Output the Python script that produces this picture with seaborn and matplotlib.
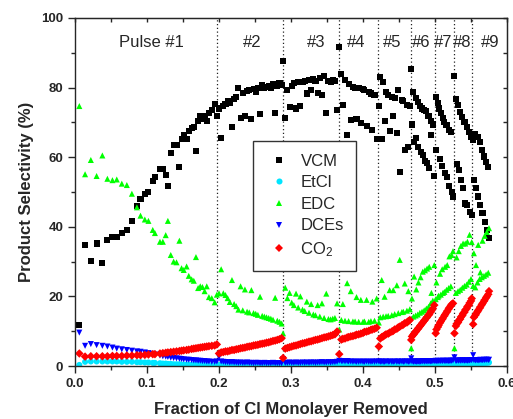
import numpy as np
import pandas as pd
import matplotlib
matplotlib.use("Agg")
import matplotlib.pyplot as plt
from matplotlib.ticker import MultipleLocator
import seaborn as sns

# fraction of Cl monolayer removed (shared sample positions, grouped by pulse)
frac = [
    # pulse 1
    0.006, 0.014, 0.022, 0.030, 0.038, 0.045, 0.052, 0.058, 0.065, 0.072,
    0.079, 0.086, 0.091, 0.097, 0.102, 0.108, 0.111, 0.118, 0.122, 0.126,
    0.129, 0.133, 0.137, 0.141, 0.145, 0.148, 0.151, 0.155, 0.158, 0.162,
    0.165, 0.168, 0.171, 0.174, 0.177, 0.180, 0.183, 0.186, 0.190, 0.194, 0.197,
    # pulse 2
    0.200, 0.203, 0.206, 0.209, 0.212, 0.215, 0.218, 0.221, 0.224, 0.227,
    0.230, 0.233, 0.236, 0.239, 0.242, 0.245, 0.248, 0.251, 0.254, 0.257,
    0.260, 0.263, 0.266, 0.269, 0.272, 0.275, 0.278, 0.281, 0.284, 0.287,
    # pulse 3
    0.289, 0.292, 0.295, 0.298, 0.301, 0.304, 0.307, 0.310, 0.313, 0.316,
    0.319, 0.322, 0.325, 0.328, 0.331, 0.334, 0.337, 0.340, 0.343, 0.346,
    0.349, 0.352, 0.355, 0.358, 0.361, 0.364,
    # pulse 4
    0.367, 0.370, 0.372, 0.375, 0.378, 0.380, 0.383, 0.386, 0.389, 0.391,
    0.394, 0.397, 0.400, 0.402, 0.405, 0.408, 0.411, 0.413, 0.416, 0.419,
    # pulse 5
    0.422, 0.424, 0.426, 0.428, 0.430, 0.432, 0.435, 0.437, 0.440, 0.442,
    0.444, 0.447, 0.449, 0.451, 0.454, 0.456, 0.458, 0.461, 0.463, 0.465,
    # pulse 6
    0.467, 0.468, 0.470, 0.471, 0.473, 0.474, 0.476, 0.477, 0.479, 0.480,
    0.482, 0.483, 0.485, 0.486, 0.488, 0.489, 0.491, 0.492, 0.494, 0.495,
    0.497, 0.499,
    # pulse 7
    0.501, 0.502, 0.504, 0.505, 0.507, 0.508, 0.510, 0.511, 0.513, 0.514,
    0.516, 0.517, 0.519, 0.520, 0.522, 0.523, 0.525,
    # pulse 8
    0.527, 0.529, 0.530, 0.532, 0.533, 0.535, 0.536, 0.538, 0.539, 0.541,
    0.542, 0.544, 0.545, 0.547, 0.548, 0.550, 0.551,
    # pulse 9
    0.553, 0.554, 0.556, 0.557, 0.559, 0.560, 0.562, 0.563, 0.565, 0.566,
    0.568, 0.569, 0.571, 0.572, 0.574, 0.575,
]

vcm = [
    11.7, 34.7, 30.3, 35.2, 29.6, 36.3, 37.0, 37.0, 38.3, 39.0,
    41.7, 46.0, 48.0, 49.4, 50.0, 53.2, 54.3, 56.6, 56.6, 54.9,
    51.6, 61.2, 63.5, 63.4, 57.1, 65.2, 66.5, 65.2, 67.4, 68.4,
    68.6, 61.7, 70.4, 71.8, 71.0, 71.8, 70.4, 72.6, 73.6, 75.2, 71.8,
    74.0, 65.6, 74.8, 75.3, 76.0, 75.5, 68.7, 76.8, 77.4, 79.8,
    71.4, 78.5, 71.8, 79.0, 79.3, 71.1, 79.5, 78.8, 79.8, 72.5,
    80.7, 79.9, 80.2, 80.5, 79.8, 80.9, 72.6, 80.6, 81.4, 80.8,
    87.7, 71.4, 79.3, 74.3, 80.5, 81.2, 74.0, 81.5, 74.7, 81.7,
    82.0, 78.3, 82.2, 79.3, 82.4, 82.0, 78.5, 82.7, 77.8, 83.4,
    72.8, 82.0, 81.7, 82.3, 81.8, 73.5,
    91.6, 83.9, 75.0, 82.2, 66.4, 81.0, 70.7, 80.3, 80.0, 71.1,
    79.9, 69.7, 79.5, 79.2, 69.0, 78.8, 78.3, 67.8, 78.0, 65.1,
    74.6, 83.1, 65.2, 81.7, 70.4, 78.8, 77.9, 67.6, 77.4, 71.8,
    77.0, 66.9, 79.4, 55.8, 76.4, 76.1, 62.0, 75.1, 62.8, 74.6,
    85.3, 69.4, 78.8, 64.5, 76.9, 65.4, 75.9, 63.0, 74.6, 61.5,
    74.0, 60.6, 73.6, 59.0, 73.2, 58.2, 71.8, 56.8, 70.4, 66.5,
    69.4, 54.5,
    77.4, 62.0, 75.5, 74.0, 59.5, 72.6, 57.5, 71.2, 70.2, 55.5,
    69.3, 54.4, 67.9, 51.7, 67.3, 50.1, 48.7,
    83.3, 76.6, 58.0, 75.0, 56.3, 73.1, 53.5, 71.6, 51.1, 70.2,
    46.7, 68.7, 46.3, 67.3, 44.3, 65.9, 43.3,
    65.0, 53.5, 66.8, 51.1, 65.9, 48.7, 64.5, 46.3, 62.0, 44.0,
    60.2, 41.5, 58.7, 39.0, 57.3, 36.7,
]

etcl = [
    0.3, 1.2, 1.3, 1.3, 1.3, 1.3, 1.3, 1.3, 1.2, 1.2,
    1.2, 1.1, 1.1, 1.0, 1.0, 0.9, 0.9, 0.8, 0.7, 0.7,
    0.6, 0.6, 0.5, 0.5, 0.5, 0.4, 0.4, 0.4, 0.4, 0.3,
    0.3, 0.3, 0.3, 0.3, 0.3, 0.2, 0.2, 0.2, 0.2, 0.2, 0.2,
    0.3, 0.2, 0.2, 0.2, 0.3, 0.2, 0.2, 0.2, 0.3, 0.2,
    0.2, 0.2, 0.2, 0.3, 0.2, 0.2, 0.2, 0.2, 0.2, 0.3,
    0.2, 0.2, 0.2, 0.2, 0.2, 0.2, 0.3, 0.2, 0.2, 0.2,
    0.3, 0.2, 0.2, 0.2, 0.2, 0.3, 0.2, 0.2, 0.2, 0.2,
    0.3, 0.2, 0.2, 0.2, 0.2, 0.3, 0.2, 0.2, 0.2, 0.2,
    0.3, 0.2, 0.2, 0.2, 0.3, 0.3,
    0.3, 0.3, 0.2, 0.3, 0.3, 0.2, 0.3, 0.3, 0.2, 0.3,
    0.3, 0.3, 0.2, 0.3, 0.3, 0.3, 0.2, 0.3, 0.3, 0.3,
    0.3, 0.3, 0.3, 0.2, 0.3, 0.3, 0.3, 0.3, 0.3, 0.2,
    0.3, 0.3, 0.3, 0.3, 0.3, 0.3, 0.3, 0.3, 0.3, 0.3,
    0.3, 0.3, 0.3, 0.4, 0.3, 0.3, 0.4, 0.3, 0.3, 0.4,
    0.3, 0.4, 0.4, 0.3, 0.4, 0.4, 0.4, 0.3, 0.4, 0.4,
    0.4, 0.4,
    0.4, 0.4, 0.4, 0.5, 0.4, 0.4, 0.5, 0.4, 0.5, 0.5,
    0.4, 0.5, 0.5, 0.5, 0.5, 0.5, 0.5,
    0.5, 0.5, 0.6, 0.5, 0.6, 0.6, 0.5, 0.6, 0.6, 0.6,
    0.6, 0.7, 0.6, 0.7, 0.7, 0.7, 0.7,
    0.7, 0.8, 0.7, 0.8, 0.8, 0.8, 0.9, 0.8, 0.9, 0.9,
    0.9, 1.0, 0.9, 1.0, 1.0, 1.0,
]

edc = [
    74.7, 55.1, 59.2, 54.6, 60.5, 53.8, 53.4, 53.6, 52.4, 52.0,
    49.5, 45.6, 43.2, 42.1, 41.7, 39.1, 38.2, 35.7, 35.7, 37.6,
    41.7, 31.9, 30.0, 29.8, 36.0, 28.1, 27.6, 28.6, 25.9, 24.9,
    24.5, 31.3, 22.4, 22.9, 22.7, 21.5, 22.9, 19.8, 19.5, 18.3, 20.5,
    20.9, 27.8, 20.9, 20.4, 19.5, 18.4, 24.7, 17.8, 17.2, 16.2,
    22.9, 16.0, 22.0, 15.6, 15.4, 21.8, 15.2, 15.0, 14.7, 19.9,
    14.4, 14.2, 14.0, 13.8, 13.6, 13.3, 19.6, 13.0, 12.7, 12.2,
    9.4, 22.5, 19.5, 21.0, 18.2, 17.5, 20.8, 16.8, 20.0, 16.2,
    15.8, 18.5, 15.3, 17.8, 14.8, 14.6, 17.5, 14.2, 18.0, 13.8,
    20.8, 13.5, 13.4, 13.6, 13.8, 18.0,
    10.5, 13.2, 17.8, 13.0, 23.8, 12.9, 21.5, 12.8, 12.8, 19.8,
    12.7, 19.0, 12.7, 12.8, 19.0, 12.7, 12.9, 18.5, 13.0, 19.4,
    12.5, 14.0, 24.7, 14.2, 19.9, 14.3, 14.4, 21.8, 14.6, 21.8,
    14.9, 23.2, 15.2, 30.5, 15.5, 15.6, 23.7, 15.9, 21.5, 16.3,
    5.1, 19.4, 14.2, 25.7, 14.5, 22.0, 14.8, 24.0, 15.3, 25.5,
    15.6, 27.1, 16.0, 27.5, 16.5, 28.0, 17.0, 28.5, 18.0, 21.0,
    18.8, 29.0,
    19.2, 24.0, 19.8, 20.2, 26.5, 20.5, 27.8, 21.0, 21.3, 28.5,
    21.9, 29.0, 22.4, 31.5, 22.9, 31.9, 33.0,
    5.1, 21.0, 31.2, 21.5, 33.0, 21.9, 34.5, 22.5, 35.2, 23.0,
    35.2, 23.4, 35.7, 24.2, 37.7, 25.0, 35.6,
    23.0, 32.4, 22.6, 29.0, 24.0, 34.8, 25.0, 26.9, 25.5, 36.0,
    25.9, 37.4, 26.3, 38.5, 26.8, 39.6,
]

dces = [
    9.6, 5.8, 6.3, 6.0, 5.8, 5.6, 5.3, 5.0, 4.8, 4.6,
    4.4, 4.2, 4.1, 3.9, 3.7, 3.5, 3.3, 3.0, 2.8, 2.7,
    2.6, 2.4, 2.3, 2.2, 2.1, 2.0, 1.9, 1.8, 1.8, 1.7,
    1.6, 1.6, 1.5, 1.5, 1.4, 1.4, 1.3, 1.3, 1.2, 1.2, 1.3,
    2.6, 1.3, 1.2, 1.1, 1.1, 1.0, 1.1, 1.0, 1.0, 0.9,
    1.0, 0.9, 0.9, 1.0, 0.9, 0.9, 0.8, 0.9, 0.9, 0.8,
    0.8, 0.9, 0.8, 0.8, 0.8, 0.9, 0.8, 0.8, 0.8, 0.8,
    2.0, 0.9, 0.9, 1.0, 0.9, 0.9, 1.0, 0.9, 0.9, 1.0,
    0.9, 1.0, 0.9, 1.0, 1.0, 0.9, 1.0, 1.0, 1.1, 1.0,
    1.0, 1.1, 1.0, 1.1, 1.1, 1.2,
    1.5, 1.4, 1.4, 1.3, 1.4, 1.3, 1.3, 1.2, 1.3, 1.2,
    1.2, 1.3, 1.2, 1.2, 1.3, 1.2, 1.2, 1.3, 1.2, 1.3,
    1.3, 1.2, 1.3, 1.2, 1.2, 1.3, 1.2, 1.3, 1.2, 1.2,
    1.3, 1.2, 1.3, 1.2, 1.3, 1.2, 1.3, 1.3, 1.2, 1.3,
    2.2, 1.3, 1.2, 1.3, 1.3, 1.2, 1.3, 1.3, 1.2, 1.3,
    1.3, 1.4, 1.3, 1.3, 1.4, 1.3, 1.4, 1.4, 1.3, 1.4,
    1.4, 1.4,
    1.5, 1.4, 1.4, 1.5, 1.4, 1.5, 1.4, 1.5, 1.5, 1.4,
    1.5, 1.5, 1.4, 1.5, 1.5, 1.5, 1.6,
    2.5, 1.5, 1.5, 1.6, 1.5, 1.6, 1.5, 1.6, 1.6, 1.5,
    1.6, 1.6, 1.5, 1.6, 1.6, 1.7, 1.7,
    3.1, 1.7, 1.6, 1.7, 1.7, 1.6, 1.7, 1.8, 1.7, 1.7,
    1.8, 1.7, 1.8, 1.8, 1.7, 1.8,
]

co2 = [
    3.6, 2.7, 2.8, 2.8, 2.8, 2.8, 2.9, 2.9, 2.9, 3.0,
    3.0, 3.1, 3.1, 3.2, 3.3, 3.4, 3.4, 3.6, 3.7, 3.8,
    3.9, 4.0, 4.1, 4.2, 4.3, 4.4, 4.5, 4.6, 4.7, 4.9,
    5.0, 5.1, 5.2, 5.3, 5.4, 5.5, 5.6, 5.7, 5.8, 5.9, 6.2,
    3.6, 3.9, 4.0, 4.2, 4.2, 4.4, 4.6, 4.6, 4.8, 4.9,
    5.1, 5.2, 5.3, 5.5, 5.6, 5.7, 5.9, 6.0, 6.1, 6.3,
    6.4, 6.5, 6.7, 6.8, 7.0, 7.2, 7.3, 7.5, 7.7, 8.0,
    2.3, 5.0, 5.2, 5.4, 5.6, 5.8, 5.9, 6.1, 6.3, 6.5,
    6.6, 6.8, 7.0, 7.1, 7.3, 7.5, 7.6, 7.8, 8.0, 8.2,
    8.3, 8.5, 8.7, 8.9, 9.1, 9.9,
    3.4, 7.6, 7.8, 7.9, 8.2, 8.3, 8.5, 8.6, 8.8, 9.0,
    9.1, 9.3, 9.5, 9.8, 9.9, 10.1, 10.4, 10.5, 10.7, 11.0,
    5.6, 7.9, 8.3, 8.5, 8.8, 9.1, 9.3, 9.6, 9.9, 10.1,
    10.5, 10.7, 11.1, 11.3, 11.7, 11.9, 12.3, 12.5, 12.9, 13.2,
    7.5, 8.5, 9.0, 9.3, 9.8, 10.1, 10.6, 10.9, 11.4, 11.7,
    12.2, 12.5, 13.0, 13.3, 13.8, 14.1, 14.6, 14.9, 15.5, 15.9,
    16.5, 17.5,
    9.4, 10.5, 11.2, 11.7, 12.4, 12.8, 13.4, 13.8, 14.4, 14.8,
    15.4, 15.8, 16.4, 16.8, 17.3, 17.7, 18.0,
    9.4, 11.5, 12.1, 12.5, 13.1, 13.5, 14.1, 14.5, 15.1, 15.5,
    16.1, 16.5, 17.1, 17.5, 18.1, 18.7, 19.4,
    12.0, 14.0, 14.6, 15.0, 15.6, 16.0, 16.6, 17.0, 17.6, 18.0,
    18.6, 19.0, 19.6, 20.0, 20.6, 21.5,
]

# pulse boundaries and labels
pulse_bounds = [0.197, 0.289, 0.367, 0.421, 0.466, 0.500, 0.526, 0.552]
pulse_labels = ["Pulse #1", "#2", "#3", "#4", "#5", "#6", "#7", "#8", "#9"]
label_x = [0.1065, 0.2465, 0.3345, 0.391, 0.441, 0.481, 0.5114, 0.5378, 0.577]

products = ["VCM", "EtCl", "EDC", "DCEs", "CO$_2$"]
series = [vcm, etcl, edc, dces, co2]

df = pd.concat(
    [pd.DataFrame({"frac": frac, "sel": s, "product": p}) for p, s in zip(products, series)],
    ignore_index=True,
)

sns.set_style("ticks")
plt.rcParams["font.family"] = ["Liberation Sans", "DejaVu Sans"]
plt.rcParams["mathtext.default"] = "regular"

fig = plt.figure(figsize=(5.13, 4.19), dpi=100)
ax = fig.add_axes([75 / 513, 53 / 419, 432 / 513, 348 / 419])

palette = {"VCM": "#000000", "EtCl": "#00e5ff", "EDC": "#00ff00", "DCEs": "#0000ff", "CO$_2$": "#ff0000"}
markers = {"VCM": "s", "EtCl": "o", "EDC": "^", "DCEs": "v", "CO$_2$": "D"}

sns.scatterplot(data=df, x="frac", y="sel", hue="product", style="product",
                hue_order=products, style_order=products,
                palette=palette, markers=markers, s=19, linewidth=0, ax=ax)

for b in pulse_bounds:
    ax.axvline(b, color="#222222", ls=(0, (1, 2)), lw=0.9, zorder=0)
for lx, lab in zip(label_x, pulse_labels):
    ax.text(lx, 93, lab, ha="center", va="center", fontsize=12)

ax.set_xlim(0, 0.6)
ax.set_ylim(0, 100)
ax.xaxis.set_major_locator(MultipleLocator(0.1))
ax.xaxis.set_minor_locator(MultipleLocator(0.05))
ax.yaxis.set_major_locator(MultipleLocator(20))
ax.yaxis.set_minor_locator(MultipleLocator(10))
ax.set_xticklabels([f"{v:.1f}" for v in ax.get_xticks()])
ax.tick_params(which="major", direction="out", length=5, width=1, labelsize=9.5)
ax.tick_params(which="minor", direction="out", length=3, width=1)
for lab in ax.get_xticklabels() + ax.get_yticklabels():
    lab.set_fontweight("bold")
for sp in ax.spines.values():
    sp.set_linewidth(1.0)
    sp.set_visible(True)

# mirrored ticks pointing inward on top and right
top = ax.secondary_xaxis("top")
top.xaxis.set_major_locator(MultipleLocator(0.1))
top.xaxis.set_minor_locator(MultipleLocator(0.05))
top.tick_params(which="both", direction="in", length=3, width=1, labeltop=False)
right = ax.secondary_yaxis("right")
right.yaxis.set_major_locator(MultipleLocator(20))
right.yaxis.set_minor_locator(MultipleLocator(10))
right.tick_params(which="both", direction="in", length=3, width=1, labelright=False)

ax.set_xlabel("Fraction of Cl Monolayer Removed", fontsize=12, fontweight="bold", labelpad=9)
ax.set_ylabel("Product Selectivity (%)", fontsize=12, fontweight="bold", labelpad=5)

sns.move_legend(ax, "upper left", bbox_to_anchor=(253 / 513, 1 - 141 / 419),
                bbox_transform=fig.transFigure, borderaxespad=0, title=None,
                frameon=True, fancybox=False, fontsize=12, borderpad=0.75,
                labelspacing=0.4, handlelength=1.6, handletextpad=0.5,
                edgecolor="#333333", framealpha=1)
ax.get_legend().get_frame().set_linewidth(1.0)

fig.savefig("out.png", dpi=100)
